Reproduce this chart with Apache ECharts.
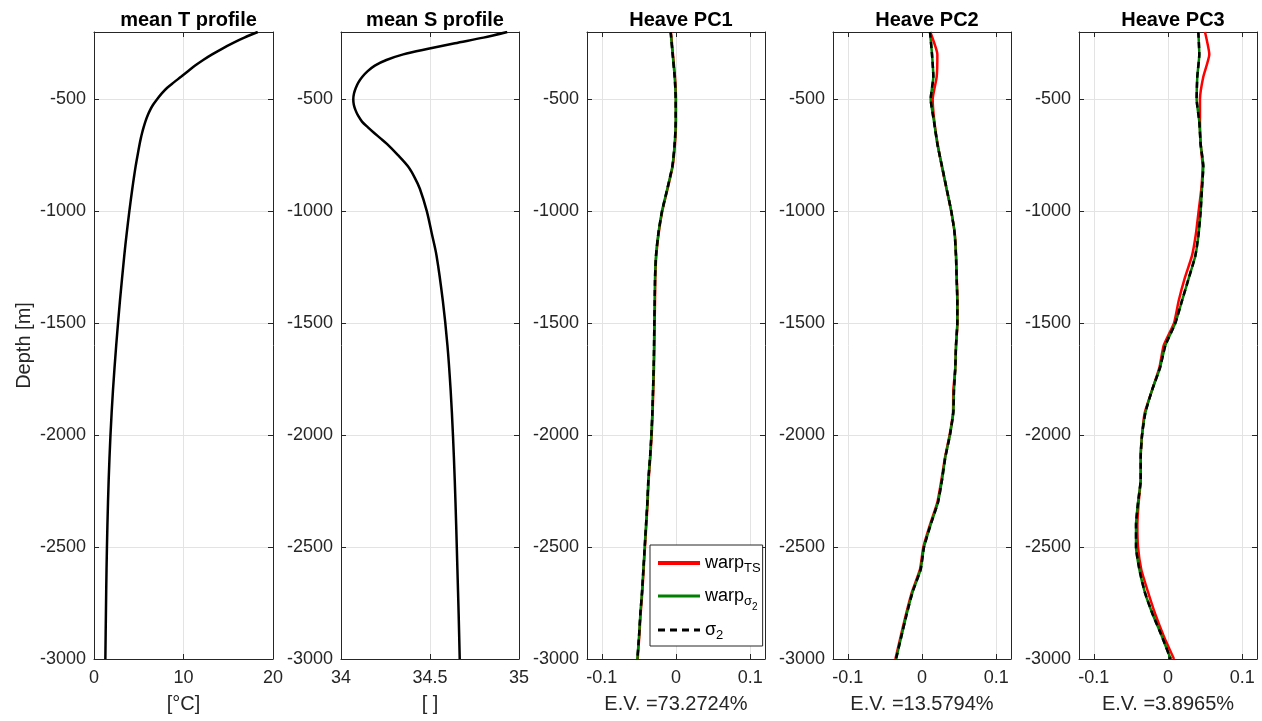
<!DOCTYPE html>
<html><head><meta charset="utf-8">
<script src="https://cdn.jsdelivr.net/npm/echarts@6/dist/echarts.min.js"></script>
<style>html,body{margin:0;padding:0;background:#fff}#c{width:1262px;height:721px}</style>
</head><body><div id="c"></div>
<script>
// ---------- data ----------
const profileDepth = [-200,-225,-250,-275,-300,-325,-350,-375,-400,-425,-450,-475,-500,-525,-550,-575,-600,-625,-650,-675,-700,-750,-800,-850,-900,-1000,-1100,-1200,-1400,-1600,-1800,-2000,-2200,-2400,-2600,-2800,-3000];
const meanT = [18.3,16.8,15.5,14.3,13.2,12.2,11.3,10.5,9.72,8.92,8.15,7.55,7.05,6.6,6.25,5.97,5.74,5.55,5.38,5.23,5.1,4.87,4.65,4.46,4.28,3.95,3.65,3.38,2.9,2.48,2.12,1.84,1.64,1.5,1.4,1.33,1.27];
const meanS = [34.934,34.80,34.64,34.49,34.35,34.255,34.19,34.15,34.12,34.098,34.083,34.073,34.069,34.072,34.082,34.097,34.118,34.15,34.185,34.222,34.258,34.32,34.376,34.414,34.443,34.482,34.51,34.537,34.572,34.598,34.616,34.629,34.639,34.647,34.654,34.661,34.667];

const pcDepth = [-200,-300,-400,-500,-600,-700,-800,-900,-1000,-1100,-1200,-1300,-1400,-1500,-1600,-1700,-1800,-1900,-2000,-2100,-2200,-2300,-2400,-2500,-2600,-2700,-2800,-2900,-3000];

const pc1WarpTS   = [-0.0068,-0.0041,-0.0014,0.0000,0.0000,-0.0014,-0.0045,-0.0113,-0.0185,-0.0234,-0.0266,-0.0279,-0.0283,-0.0288,-0.0292,-0.0297,-0.0306,-0.0315,-0.0328,-0.0346,-0.0369,-0.0382,-0.0400,-0.0418,-0.0436,-0.0454,-0.0477,-0.0495,-0.0517];
const pc1WarpSig2 = [-0.0072,-0.0045,-0.0018,-0.0004,-0.0004,-0.0018,-0.0049,-0.0117,-0.0189,-0.0238,-0.0270,-0.0283,-0.0287,-0.0292,-0.0296,-0.0301,-0.0310,-0.0319,-0.0332,-0.0350,-0.0373,-0.0386,-0.0404,-0.0422,-0.0440,-0.0458,-0.0481,-0.0499,-0.0521];
const pc1Sig2     = [-0.0072,-0.0045,-0.0018,-0.0004,-0.0004,-0.0018,-0.0049,-0.0117,-0.0189,-0.0238,-0.0270,-0.0283,-0.0287,-0.0292,-0.0296,-0.0301,-0.0310,-0.0319,-0.0332,-0.0350,-0.0373,-0.0386,-0.0404,-0.0422,-0.0440,-0.0458,-0.0481,-0.0499,-0.0521];

const pc2WarpTS   = [0.0112,0.0207,0.0198,0.0144,0.0167,0.0211,0.0266,0.0330,0.0393,0.0442,0.0460,0.0469,0.0478,0.0478,0.0460,0.0449,0.0422,0.0418,0.0372,0.0310,0.0262,0.0207,0.0108,0.0018,-0.0027,-0.0135,-0.0216,-0.0288,-0.0359];
const pc2WarpSig2 = [0.0108,0.0135,0.0153,0.0117,0.0162,0.0207,0.0270,0.0332,0.0395,0.0440,0.0458,0.0467,0.0476,0.0476,0.0458,0.0449,0.0431,0.0422,0.0377,0.0314,0.0270,0.0216,0.0117,0.0027,-0.0018,-0.0126,-0.0207,-0.0279,-0.0350];
const pc2Sig2     = [0.0108,0.0135,0.0153,0.0117,0.0162,0.0207,0.0270,0.0332,0.0395,0.0440,0.0458,0.0467,0.0476,0.0476,0.0458,0.0449,0.0431,0.0422,0.0377,0.0314,0.0270,0.0216,0.0117,0.0027,-0.0018,-0.0126,-0.0207,-0.0279,-0.0350];

const pc3WarpTS   = [0.0499,0.0557,0.0476,0.0431,0.0431,0.0440,0.0467,0.0449,0.0413,0.0377,0.0323,0.0225,0.0144,0.0081,-0.0058,-0.0117,-0.0216,-0.0314,-0.0350,-0.0368,-0.0368,-0.0395,-0.0413,-0.0404,-0.0360,-0.0270,-0.0171,-0.0054,0.0081];
const pc3WarpSig2 = [0.0409,0.0422,0.0395,0.0386,0.0422,0.0440,0.0476,0.0458,0.0440,0.0413,0.0368,0.0279,0.0189,0.0099,-0.0036,-0.0108,-0.0216,-0.0305,-0.0350,-0.0368,-0.0368,-0.0404,-0.0431,-0.0431,-0.0386,-0.0314,-0.0207,-0.0081,0.0036];
const pc3Sig2     = [0.0409,0.0422,0.0395,0.0386,0.0422,0.0440,0.0476,0.0458,0.0440,0.0413,0.0368,0.0279,0.0189,0.0099,-0.0036,-0.0108,-0.0216,-0.0305,-0.0350,-0.0368,-0.0368,-0.0404,-0.0431,-0.0431,-0.0386,-0.0314,-0.0207,-0.0081,0.0036];

const panelTitles = ['mean T profile','mean S profile','Heave PC1','Heave PC2','Heave PC3'];
const xAxisNames = ['[°C]','[ ]','E.V. =73.2724%','E.V. =13.5794%','E.V. =3.8965%'];
const yAxisName = 'Depth [m]';
const legendNames = ['warpTS','warpσ2','σ2'];

// ---------- layout / style ----------
const FONT = '"Liberation Sans", Arial, Helvetica, sans-serif';
const lefts = [94, 341, 587, 833, 1079];
const widths = [179, 178, 178, 178, 178];
const TOP = 32, HEIGHT = 627;
const AX = '#262626', GRID = '#e3e3e3';

const xRanges = [
  {min: 0, max: 20, interval: 10},
  {min: 34, max: 35, interval: 0.5},
  {min: -0.12, max: 0.12, splitNumber: 2},
  {min: -0.12, max: 0.12, splitNumber: 2},
  {min: -0.12, max: 0.12, splitNumber: 2}
];

const grids = [], xAxes = [], yAxes = [], titles = [], series = [];
for (let i = 0; i < 5; i++) {
  grids.push({left: lefts[i], top: TOP, width: widths[i], height: HEIGHT, show: false});
  titles.push({text: panelTitles[i], left: lefts[i] + widths[i] / 2, top: 5, textAlign: 'center',
    textStyle: {fontFamily: FONT, fontSize: 20, fontWeight: 'bold', color: '#000'}});
  const xr = xRanges[i];
  xAxes.push(Object.assign({type: 'value', gridIndex: i, position: 'bottom',
    name: xAxisNames[i], nameLocation: 'middle', nameGap: 35,
    nameTextStyle: {fontFamily: FONT, fontSize: 20, color: AX},
    axisLine: {show: true, onZero: false, lineStyle: {color: AX, width: 1}},
    axisTick: {show: true, inside: true, length: 5, lineStyle: {color: AX}},
    axisLabel: {show: true, margin: 10, fontFamily: FONT, fontSize: 18, color: AX,
      showMinLabel: i < 2, showMaxLabel: i < 2, formatter: v => String(+v.toFixed(4))},
    splitLine: {show: true, lineStyle: {color: GRID, width: 1}}
  }, xr));
  xAxes.push(Object.assign({type: 'value', gridIndex: i, position: 'top',
    axisLine: {show: true, onZero: false, lineStyle: {color: AX, width: 1}},
    axisTick: {show: true, inside: true, length: 5, lineStyle: {color: AX}},
    axisLabel: {show: false}, splitLine: {show: false}
  }, xr));
  yAxes.push({type: 'value', gridIndex: i, position: 'left', min: -3000, max: -200, interval: 500,
    name: i === 0 ? yAxisName : '', nameLocation: 'middle', nameGap: 60, nameRotate: 90,
    nameTextStyle: {fontFamily: FONT, fontSize: 20, color: AX},
    axisLine: {show: true, onZero: false, lineStyle: {color: AX, width: 1}},
    axisTick: {show: true, inside: true, length: 5, lineStyle: {color: AX}},
    axisLabel: {show: true, margin: 8, fontFamily: FONT, fontSize: 18, color: AX,
      showMaxLabel: false, formatter: v => String(v)},
    splitLine: {show: true, lineStyle: {color: GRID, width: 1}}
  });
  yAxes.push({type: 'value', gridIndex: i, position: 'right', min: -3000, max: -200, interval: 500,
    axisLine: {show: true, onZero: false, lineStyle: {color: AX, width: 1}},
    axisTick: {show: true, inside: true, length: 5, lineStyle: {color: AX}},
    axisLabel: {show: false}, splitLine: {show: false}
  });
}

function pairs(vals, depth) { return depth.map((d, k) => [vals[k], d]); }

series.push({type: 'line', name: 'meanT', xAxisIndex: 0, yAxisIndex: 0, data: pairs(meanT, profileDepth),
  symbol: 'none', smooth: 0.3, lineStyle: {color: '#000', width: 2.5}, silent: true});
series.push({type: 'line', name: 'meanS', xAxisIndex: 2, yAxisIndex: 2, data: pairs(meanS, profileDepth),
  symbol: 'none', smooth: 0.3, lineStyle: {color: '#000', width: 2.5}, silent: true});

const pcSets = [
  [pc1WarpTS, pc1WarpSig2, pc1Sig2],
  [pc2WarpTS, pc2WarpSig2, pc2Sig2],
  [pc3WarpTS, pc3WarpSig2, pc3Sig2]
];
const pcStyles = [
  {color: '#ff0000', width: 2.5, type: 'solid'},
  {color: '#008000', width: 2.5, type: 'solid'},
  {color: '#000000', width: 2.5, type: [6, 4]}
];
pcSets.forEach((set, p) => {
  const gi = p + 2;
  set.forEach((vals, s) => {
    series.push({type: 'line', name: legendNames[s], xAxisIndex: gi * 2, yAxisIndex: gi * 2,
      data: pairs(vals, pcDepth), symbol: 'none', showSymbol: false, smooth: 0.15,
      itemStyle: {color: pcStyles[s].color},
      lineStyle: Object.assign({}, pcStyles[s]), z: 2 + s, silent: true});
  });
});

const legendLabel = {
  'warpTS': '{n|warp}{s|TS}',
  'warpσ2': '{n|warp}{s|σ}{ss|2}',
  'σ2': '{n|σ}{s|2}'
};
const hidden = {opacity: 0, color: 'rgba(0,0,0,0)', borderWidth: 0};

const option = {
  animation: false,
  backgroundColor: '#fff',
  textStyle: {fontFamily: FONT},
  title: titles,
  grid: grids,
  xAxis: xAxes,
  yAxis: yAxes,
  legend: {
    orient: 'vertical', left: 650, top: 545,
    padding: [9, 2, 1, 6], itemGap: 9, itemWidth: 42, itemHeight: 14,
    backgroundColor: '#fff', borderColor: AX, borderWidth: 1, borderRadius: 0,
    selectedMode: false,
    itemStyle: hidden,
    data: [
      {name: 'warpTS', itemStyle: hidden, lineStyle: {width: 4, color: '#ff0000'}},
      {name: 'warpσ2', itemStyle: hidden, lineStyle: {width: 3, color: '#008000'}},
      {name: 'σ2', itemStyle: hidden, lineStyle: {width: 3, color: '#000', type: [7, 5]}}
    ],
    formatter: name => legendLabel[name],
    textStyle: {
      fontFamily: FONT, color: '#000',
      rich: {
        n: {fontSize: 18, lineHeight: 18, padding: [0, 0, 6, 0], verticalAlign: 'top', fontFamily: FONT, color: '#000'},
        s: {fontSize: 13, lineHeight: 14, padding: [8, 0, 2, 0], verticalAlign: 'top', fontFamily: FONT, color: '#000'},
        ss: {fontSize: 10, lineHeight: 9, padding: [15, 0, 0, 0], verticalAlign: 'top', fontFamily: FONT, color: '#000'}
      }
    }
  },
  series: series
};

const chart = echarts.init(document.getElementById('c'), null, {renderer: 'canvas'});
chart.setOption(option);
</script>
</body></html>
